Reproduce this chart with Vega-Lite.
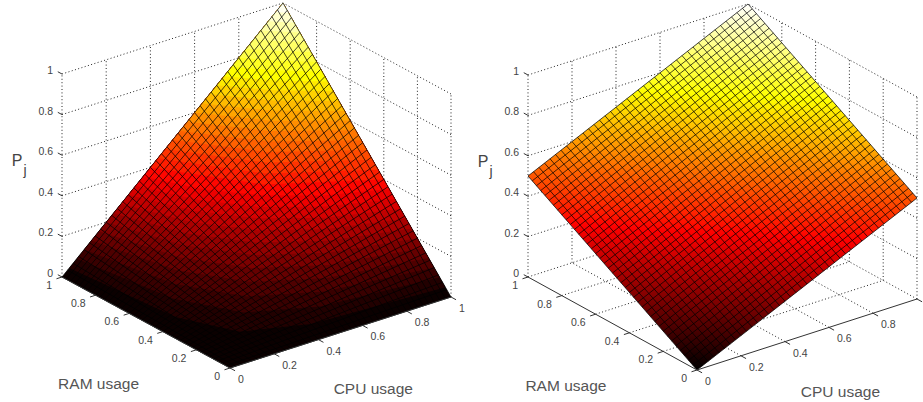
{"$schema":"https://vega.github.io/schema/vega-lite/v6.json","width":923,"height":402,"padding":0,"autosize":{"type":"fit","contains":"padding"},"background":"white","view":{"stroke":null},
"data":{"values":[
{"kind":"grid","panel":"both","x0":0,"y0":1,"z0":0,"x1":0,"y1":1,"z1":1},{"kind":"grid","panel":"both","x0":0.2,"y0":1,"z0":0,"x1":0.2,"y1":1,"z1":1},{"kind":"grid","panel":"both","x0":0.4,"y0":1,"z0":0,"x1":0.4,"y1":1,"z1":1},{"kind":"grid","panel":"both","x0":0.6,"y0":1,"z0":0,"x1":0.6,"y1":1,"z1":1},{"kind":"grid","panel":"both","x0":0.8,"y0":1,"z0":0,"x1":0.8,"y1":1,"z1":1},{"kind":"grid","panel":"both","x0":1,"y0":1,"z0":0,"x1":1,"y1":1,"z1":1},
{"kind":"grid","panel":"both","x0":0,"y0":1,"z0":0,"x1":1,"y1":1,"z1":0},{"kind":"grid","panel":"both","x0":0,"y0":1,"z0":0.2,"x1":1,"y1":1,"z1":0.2},{"kind":"grid","panel":"both","x0":0,"y0":1,"z0":0.4,"x1":1,"y1":1,"z1":0.4},{"kind":"grid","panel":"both","x0":0,"y0":1,"z0":0.6,"x1":1,"y1":1,"z1":0.6},{"kind":"grid","panel":"both","x0":0,"y0":1,"z0":0.8,"x1":1,"y1":1,"z1":0.8},{"kind":"grid","panel":"both","x0":0,"y0":1,"z0":1,"x1":1,"y1":1,"z1":1},
{"kind":"grid","panel":"both","x0":1,"y0":0,"z0":0,"x1":1,"y1":0,"z1":1},{"kind":"grid","panel":"both","x0":1,"y0":0.2,"z0":0,"x1":1,"y1":0.2,"z1":1},{"kind":"grid","panel":"both","x0":1,"y0":0.4,"z0":0,"x1":1,"y1":0.4,"z1":1},{"kind":"grid","panel":"both","x0":1,"y0":0.6,"z0":0,"x1":1,"y1":0.6,"z1":1},{"kind":"grid","panel":"both","x0":1,"y0":0.8,"z0":0,"x1":1,"y1":0.8,"z1":1},
{"kind":"grid","panel":"both","x0":1,"y0":0,"z0":0,"x1":1,"y1":1,"z1":0},{"kind":"grid","panel":"both","x0":1,"y0":0,"z0":0.2,"x1":1,"y1":1,"z1":0.2},{"kind":"grid","panel":"both","x0":1,"y0":0,"z0":0.4,"x1":1,"y1":1,"z1":0.4},{"kind":"grid","panel":"both","x0":1,"y0":0,"z0":0.6,"x1":1,"y1":1,"z1":0.6},{"kind":"grid","panel":"both","x0":1,"y0":0,"z0":0.8,"x1":1,"y1":1,"z1":0.8},{"kind":"grid","panel":"both","x0":1,"y0":0,"z0":1,"x1":1,"y1":1,"z1":1},
{"kind":"grid","panel":"both","x0":0.2,"y0":0,"z0":0,"x1":0.2,"y1":1,"z1":0},{"kind":"grid","panel":"both","x0":0.4,"y0":0,"z0":0,"x1":0.4,"y1":1,"z1":0},{"kind":"grid","panel":"both","x0":0.6,"y0":0,"z0":0,"x1":0.6,"y1":1,"z1":0},{"kind":"grid","panel":"both","x0":0.8,"y0":0,"z0":0,"x1":0.8,"y1":1,"z1":0},
{"kind":"grid","panel":"both","x0":0,"y0":0.2,"z0":0,"x1":1,"y1":0.2,"z1":0},{"kind":"grid","panel":"both","x0":0,"y0":0.4,"z0":0,"x1":1,"y1":0.4,"z1":0},{"kind":"grid","panel":"both","x0":0,"y0":0.6,"z0":0,"x1":1,"y1":0.6,"z1":0},{"kind":"grid","panel":"both","x0":0,"y0":0.8,"z0":0,"x1":1,"y1":0.8,"z1":0},
{"kind":"axis","panel":"both","x0":0,"y0":0,"z0":0,"x1":1,"y1":0,"z1":0},{"kind":"axis","panel":"both","x0":0,"y0":0,"z0":0,"x1":0,"y1":1,"z1":0},
{"kind":"axis","panel":"both","x0":0,"y0":0,"z0":0,"x1":-0.025,"y1":0,"z1":0},{"kind":"axis","panel":"both","x0":0,"y0":0.2,"z0":0,"x1":-0.025,"y1":0.2,"z1":0},{"kind":"axis","panel":"both","x0":0,"y0":0.4,"z0":0,"x1":-0.025,"y1":0.4,"z1":0},{"kind":"axis","panel":"both","x0":0,"y0":0.6,"z0":0,"x1":-0.025,"y1":0.6,"z1":0},{"kind":"axis","panel":"both","x0":0,"y0":0.8,"z0":0,"x1":-0.025,"y1":0.8,"z1":0},{"kind":"axis","panel":"both","x0":0,"y0":1,"z0":0,"x1":-0.025,"y1":1,"z1":0},
{"kind":"axis","panel":"both","x0":0,"y0":0,"z0":0,"x1":0,"y1":-0.03,"z1":0},{"kind":"axis","panel":"both","x0":0.2,"y0":0,"z0":0,"x1":0.2,"y1":-0.03,"z1":0},{"kind":"axis","panel":"both","x0":0.4,"y0":0,"z0":0,"x1":0.4,"y1":-0.03,"z1":0},{"kind":"axis","panel":"both","x0":0.6,"y0":0,"z0":0,"x1":0.6,"y1":-0.03,"z1":0},{"kind":"axis","panel":"both","x0":0.8,"y0":0,"z0":0,"x1":0.8,"y1":-0.03,"z1":0},{"kind":"axis","panel":"both","x0":1,"y0":0,"z0":0,"x1":1,"y1":-0.03,"z1":0},
{"kind":"axis","panel":"both","x0":0,"y0":1,"z0":0,"x1":0,"y1":1.025,"z1":0},{"kind":"axis","panel":"both","x0":0,"y0":1,"z0":0.2,"x1":0,"y1":1.025,"z1":0.2},{"kind":"axis","panel":"both","x0":0,"y0":1,"z0":0.4,"x1":0,"y1":1.025,"z1":0.4},{"kind":"axis","panel":"both","x0":0,"y0":1,"z0":0.6,"x1":0,"y1":1.025,"z1":0.6},{"kind":"axis","panel":"both","x0":0,"y0":1,"z0":0.8,"x1":0,"y1":1.025,"z1":0.8},{"kind":"axis","panel":"both","x0":0,"y0":1,"z0":1,"x1":0,"y1":1.025,"z1":1},
{"kind":"ramT","panel":"both","x0":0,"y0":0,"z0":0,"label":"0"},{"kind":"ramT","panel":"both","x0":0,"y0":0.2,"z0":0,"label":"0.2"},{"kind":"ramT","panel":"both","x0":0,"y0":0.4,"z0":0,"label":"0.4"},{"kind":"ramT","panel":"both","x0":0,"y0":0.6,"z0":0,"label":"0.6"},{"kind":"ramT","panel":"both","x0":0,"y0":0.8,"z0":0,"label":"0.8"},{"kind":"ramT","panel":"both","x0":0,"y0":1,"z0":0,"label":"1"},
{"kind":"cpuT","panel":"both","x0":0,"y0":0,"z0":0,"label":"0"},{"kind":"cpuT","panel":"both","x0":0.2,"y0":0,"z0":0,"label":"0.2"},{"kind":"cpuT","panel":"both","x0":0.4,"y0":0,"z0":0,"label":"0.4"},{"kind":"cpuT","panel":"both","x0":0.6,"y0":0,"z0":0,"label":"0.6"},{"kind":"cpuT","panel":"both","x0":0.8,"y0":0,"z0":0,"label":"0.8"},{"kind":"cpuT","panel":"L","x0":1,"y0":0,"z0":0,"label":"1"},
{"kind":"pT","panel":"both","x0":0,"y0":1,"z0":0,"label":"0"},{"kind":"pT","panel":"both","x0":0,"y0":1,"z0":0.2,"label":"0.2"},{"kind":"pT","panel":"both","x0":0,"y0":1,"z0":0.4,"label":"0.4"},{"kind":"pT","panel":"both","x0":0,"y0":1,"z0":0.6,"label":"0.6"},{"kind":"pT","panel":"both","x0":0,"y0":1,"z0":0.8,"label":"0.8"},{"kind":"pT","panel":"both","x0":0,"y0":1,"z0":1,"label":"1"},
{"kind":"title","panel":"both","x0":-0.457,"y0":0.181,"z0":0,"label":"RAM usage"},{"kind":"title","panel":"both","x0":0.297,"y0":-0.462,"z0":0,"label":"CPU usage"},
{"kind":"sym","panel":"both","x0":0,"y0":1,"z0":0.57,"label":"P"},{"kind":"sub","panel":"both","x0":0,"y0":1,"z0":0.522,"label":"j"},
{"kind":"plane","panel":"R","x0":0,"y0":0,"z0":0},{"kind":"plane","panel":"R","x0":1,"y0":0,"z0":0.5},{"kind":"plane","panel":"R","x0":1,"y0":1,"z0":1},{"kind":"plane","panel":"R","x0":0,"y0":1,"z0":0.5},
{"kind":"band","panel":"L","level":0,"x0":0,"y0":0,"z0":0},{"kind":"band","panel":"L","level":0,"x0":1,"y0":0,"z0":0},{"kind":"band","panel":"L","level":0,"x0":1,"y0":1,"z0":1},{"kind":"band","panel":"L","level":0,"x0":0,"y0":1,"z0":0},
{"kind":"band","panel":"L","level":0.033,"x0":0.033,"y0":1,"z0":0.033},{"kind":"band","panel":"L","level":0.033,"x0":0.078,"y0":0.427,"z0":0.033},{"kind":"band","panel":"L","level":0.033,"x0":0.183,"y0":0.183,"z0":0.033},{"kind":"band","panel":"L","level":0.033,"x0":0.427,"y0":0.078,"z0":0.033},{"kind":"band","panel":"L","level":0.033,"x0":1,"y0":0.033,"z0":0.033},{"kind":"band","panel":"L","level":0.033,"x0":1,"y0":1,"z0":1},
{"kind":"band","panel":"L","level":0.067,"x0":0.067,"y0":1,"z0":0.067},{"kind":"band","panel":"L","level":0.067,"x0":0.131,"y0":0.508,"z0":0.067},{"kind":"band","panel":"L","level":0.067,"x0":0.258,"y0":0.258,"z0":0.067},{"kind":"band","panel":"L","level":0.067,"x0":0.508,"y0":0.131,"z0":0.067},{"kind":"band","panel":"L","level":0.067,"x0":1,"y0":0.067,"z0":0.067},{"kind":"band","panel":"L","level":0.067,"x0":1,"y0":1,"z0":1},
{"kind":"band","panel":"L","level":0.1,"x0":0.1,"y0":1,"z0":0.1},{"kind":"band","panel":"L","level":0.1,"x0":0.178,"y0":0.562,"z0":0.1},{"kind":"band","panel":"L","level":0.1,"x0":0.316,"y0":0.316,"z0":0.1},{"kind":"band","panel":"L","level":0.1,"x0":0.562,"y0":0.178,"z0":0.1},{"kind":"band","panel":"L","level":0.1,"x0":1,"y0":0.1,"z0":0.1},{"kind":"band","panel":"L","level":0.1,"x0":1,"y0":1,"z0":1},
{"kind":"band","panel":"L","level":0.133,"x0":0.133,"y0":1,"z0":0.133},{"kind":"band","panel":"L","level":0.133,"x0":0.221,"y0":0.604,"z0":0.133},{"kind":"band","panel":"L","level":0.133,"x0":0.365,"y0":0.365,"z0":0.133},{"kind":"band","panel":"L","level":0.133,"x0":0.604,"y0":0.221,"z0":0.133},{"kind":"band","panel":"L","level":0.133,"x0":1,"y0":0.133,"z0":0.133},{"kind":"band","panel":"L","level":0.133,"x0":1,"y0":1,"z0":1},
{"kind":"band","panel":"L","level":0.167,"x0":0.167,"y0":1,"z0":0.167},{"kind":"band","panel":"L","level":0.167,"x0":0.261,"y0":0.639,"z0":0.167},{"kind":"band","panel":"L","level":0.167,"x0":0.408,"y0":0.408,"z0":0.167},{"kind":"band","panel":"L","level":0.167,"x0":0.639,"y0":0.261,"z0":0.167},{"kind":"band","panel":"L","level":0.167,"x0":1,"y0":0.167,"z0":0.167},{"kind":"band","panel":"L","level":0.167,"x0":1,"y0":1,"z0":1},
{"kind":"band","panel":"L","level":0.2,"x0":0.2,"y0":1,"z0":0.2},{"kind":"band","panel":"L","level":0.2,"x0":0.299,"y0":0.669,"z0":0.2},{"kind":"band","panel":"L","level":0.2,"x0":0.447,"y0":0.447,"z0":0.2},{"kind":"band","panel":"L","level":0.2,"x0":0.669,"y0":0.299,"z0":0.2},{"kind":"band","panel":"L","level":0.2,"x0":1,"y0":0.2,"z0":0.2},{"kind":"band","panel":"L","level":0.2,"x0":1,"y0":1,"z0":1},
{"kind":"band","panel":"L","level":0.233,"x0":0.233,"y0":1,"z0":0.233},{"kind":"band","panel":"L","level":0.233,"x0":0.336,"y0":0.695,"z0":0.233},{"kind":"band","panel":"L","level":0.233,"x0":0.483,"y0":0.483,"z0":0.233},{"kind":"band","panel":"L","level":0.233,"x0":0.695,"y0":0.336,"z0":0.233},{"kind":"band","panel":"L","level":0.233,"x0":1,"y0":0.233,"z0":0.233},{"kind":"band","panel":"L","level":0.233,"x0":1,"y0":1,"z0":1},
{"kind":"band","panel":"L","level":0.267,"x0":0.267,"y0":1,"z0":0.267},{"kind":"band","panel":"L","level":0.267,"x0":0.371,"y0":0.719,"z0":0.267},{"kind":"band","panel":"L","level":0.267,"x0":0.516,"y0":0.516,"z0":0.267},{"kind":"band","panel":"L","level":0.267,"x0":0.719,"y0":0.371,"z0":0.267},{"kind":"band","panel":"L","level":0.267,"x0":1,"y0":0.267,"z0":0.267},{"kind":"band","panel":"L","level":0.267,"x0":1,"y0":1,"z0":1},
{"kind":"band","panel":"L","level":0.3,"x0":0.3,"y0":1,"z0":0.3},{"kind":"band","panel":"L","level":0.3,"x0":0.405,"y0":0.74,"z0":0.3},{"kind":"band","panel":"L","level":0.3,"x0":0.548,"y0":0.548,"z0":0.3},{"kind":"band","panel":"L","level":0.3,"x0":0.74,"y0":0.405,"z0":0.3},{"kind":"band","panel":"L","level":0.3,"x0":1,"y0":0.3,"z0":0.3},{"kind":"band","panel":"L","level":0.3,"x0":1,"y0":1,"z0":1},
{"kind":"band","panel":"L","level":0.333,"x0":0.333,"y0":1,"z0":0.333},{"kind":"band","panel":"L","level":0.333,"x0":0.439,"y0":0.76,"z0":0.333},{"kind":"band","panel":"L","level":0.333,"x0":0.577,"y0":0.577,"z0":0.333},{"kind":"band","panel":"L","level":0.333,"x0":0.76,"y0":0.439,"z0":0.333},{"kind":"band","panel":"L","level":0.333,"x0":1,"y0":0.333,"z0":0.333},{"kind":"band","panel":"L","level":0.333,"x0":1,"y0":1,"z0":1},
{"kind":"band","panel":"L","level":0.367,"x0":0.367,"y0":1,"z0":0.367},{"kind":"band","panel":"L","level":0.367,"x0":0.471,"y0":0.778,"z0":0.367},{"kind":"band","panel":"L","level":0.367,"x0":0.606,"y0":0.606,"z0":0.367},{"kind":"band","panel":"L","level":0.367,"x0":0.778,"y0":0.471,"z0":0.367},{"kind":"band","panel":"L","level":0.367,"x0":1,"y0":0.367,"z0":0.367},{"kind":"band","panel":"L","level":0.367,"x0":1,"y0":1,"z0":1},
{"kind":"band","panel":"L","level":0.4,"x0":0.4,"y0":1,"z0":0.4},{"kind":"band","panel":"L","level":0.4,"x0":0.632,"y0":0.632,"z0":0.4},{"kind":"band","panel":"L","level":0.4,"x0":1,"y0":0.4,"z0":0.4},{"kind":"band","panel":"L","level":0.4,"x0":1,"y0":1,"z0":1},
{"kind":"band","panel":"L","level":0.433,"x0":0.433,"y0":1,"z0":0.433},{"kind":"band","panel":"L","level":0.433,"x0":0.658,"y0":0.658,"z0":0.433},{"kind":"band","panel":"L","level":0.433,"x0":1,"y0":0.433,"z0":0.433},{"kind":"band","panel":"L","level":0.433,"x0":1,"y0":1,"z0":1},
{"kind":"band","panel":"L","level":0.467,"x0":0.467,"y0":1,"z0":0.467},{"kind":"band","panel":"L","level":0.467,"x0":0.683,"y0":0.683,"z0":0.467},{"kind":"band","panel":"L","level":0.467,"x0":1,"y0":0.467,"z0":0.467},{"kind":"band","panel":"L","level":0.467,"x0":1,"y0":1,"z0":1},
{"kind":"band","panel":"L","level":0.5,"x0":0.5,"y0":1,"z0":0.5},{"kind":"band","panel":"L","level":0.5,"x0":0.707,"y0":0.707,"z0":0.5},{"kind":"band","panel":"L","level":0.5,"x0":1,"y0":0.5,"z0":0.5},{"kind":"band","panel":"L","level":0.5,"x0":1,"y0":1,"z0":1},
{"kind":"band","panel":"L","level":0.533,"x0":0.533,"y0":1,"z0":0.533},{"kind":"band","panel":"L","level":0.533,"x0":0.73,"y0":0.73,"z0":0.533},{"kind":"band","panel":"L","level":0.533,"x0":1,"y0":0.533,"z0":0.533},{"kind":"band","panel":"L","level":0.533,"x0":1,"y0":1,"z0":1},
{"kind":"band","panel":"L","level":0.567,"x0":0.567,"y0":1,"z0":0.567},{"kind":"band","panel":"L","level":0.567,"x0":0.753,"y0":0.753,"z0":0.567},{"kind":"band","panel":"L","level":0.567,"x0":1,"y0":0.567,"z0":0.567},{"kind":"band","panel":"L","level":0.567,"x0":1,"y0":1,"z0":1},
{"kind":"band","panel":"L","level":0.6,"x0":0.6,"y0":1,"z0":0.6},{"kind":"band","panel":"L","level":0.6,"x0":0.775,"y0":0.775,"z0":0.6},{"kind":"band","panel":"L","level":0.6,"x0":1,"y0":0.6,"z0":0.6},{"kind":"band","panel":"L","level":0.6,"x0":1,"y0":1,"z0":1},
{"kind":"band","panel":"L","level":0.633,"x0":0.633,"y0":1,"z0":0.633},{"kind":"band","panel":"L","level":0.633,"x0":0.796,"y0":0.796,"z0":0.633},{"kind":"band","panel":"L","level":0.633,"x0":1,"y0":0.633,"z0":0.633},{"kind":"band","panel":"L","level":0.633,"x0":1,"y0":1,"z0":1},
{"kind":"band","panel":"L","level":0.667,"x0":0.667,"y0":1,"z0":0.667},{"kind":"band","panel":"L","level":0.667,"x0":0.816,"y0":0.816,"z0":0.667},{"kind":"band","panel":"L","level":0.667,"x0":1,"y0":0.667,"z0":0.667},{"kind":"band","panel":"L","level":0.667,"x0":1,"y0":1,"z0":1},
{"kind":"band","panel":"L","level":0.7,"x0":0.7,"y0":1,"z0":0.7},{"kind":"band","panel":"L","level":0.7,"x0":0.837,"y0":0.837,"z0":0.7},{"kind":"band","panel":"L","level":0.7,"x0":1,"y0":0.7,"z0":0.7},{"kind":"band","panel":"L","level":0.7,"x0":1,"y0":1,"z0":1},
{"kind":"band","panel":"L","level":0.733,"x0":0.733,"y0":1,"z0":0.733},{"kind":"band","panel":"L","level":0.733,"x0":0.856,"y0":0.856,"z0":0.733},{"kind":"band","panel":"L","level":0.733,"x0":1,"y0":0.733,"z0":0.733},{"kind":"band","panel":"L","level":0.733,"x0":1,"y0":1,"z0":1},
{"kind":"band","panel":"L","level":0.767,"x0":0.767,"y0":1,"z0":0.767},{"kind":"band","panel":"L","level":0.767,"x0":0.876,"y0":0.876,"z0":0.767},{"kind":"band","panel":"L","level":0.767,"x0":1,"y0":0.767,"z0":0.767},{"kind":"band","panel":"L","level":0.767,"x0":1,"y0":1,"z0":1},
{"kind":"band","panel":"L","level":0.8,"x0":0.8,"y0":1,"z0":0.8},{"kind":"band","panel":"L","level":0.8,"x0":0.894,"y0":0.894,"z0":0.8},{"kind":"band","panel":"L","level":0.8,"x0":1,"y0":0.8,"z0":0.8},{"kind":"band","panel":"L","level":0.8,"x0":1,"y0":1,"z0":1},
{"kind":"band","panel":"L","level":0.833,"x0":0.833,"y0":1,"z0":0.833},{"kind":"band","panel":"L","level":0.833,"x0":0.913,"y0":0.913,"z0":0.833},{"kind":"band","panel":"L","level":0.833,"x0":1,"y0":0.833,"z0":0.833},{"kind":"band","panel":"L","level":0.833,"x0":1,"y0":1,"z0":1},
{"kind":"band","panel":"L","level":0.867,"x0":0.867,"y0":1,"z0":0.867},{"kind":"band","panel":"L","level":0.867,"x0":0.931,"y0":0.931,"z0":0.867},{"kind":"band","panel":"L","level":0.867,"x0":1,"y0":0.867,"z0":0.867},{"kind":"band","panel":"L","level":0.867,"x0":1,"y0":1,"z0":1},
{"kind":"band","panel":"L","level":0.9,"x0":0.9,"y0":1,"z0":0.9},{"kind":"band","panel":"L","level":0.9,"x0":0.949,"y0":0.949,"z0":0.9},{"kind":"band","panel":"L","level":0.9,"x0":1,"y0":0.9,"z0":0.9},{"kind":"band","panel":"L","level":0.9,"x0":1,"y0":1,"z0":1},
{"kind":"band","panel":"L","level":0.933,"x0":0.933,"y0":1,"z0":0.933},{"kind":"band","panel":"L","level":0.933,"x0":0.966,"y0":0.966,"z0":0.933},{"kind":"band","panel":"L","level":0.933,"x0":1,"y0":0.933,"z0":0.933},{"kind":"band","panel":"L","level":0.933,"x0":1,"y0":1,"z0":1},
{"kind":"band","panel":"L","level":0.967,"x0":0.967,"y0":1,"z0":0.967},{"kind":"band","panel":"L","level":0.967,"x0":0.983,"y0":0.983,"z0":0.967},{"kind":"band","panel":"L","level":0.967,"x0":1,"y0":0.967,"z0":0.967},{"kind":"band","panel":"L","level":0.967,"x0":1,"y0":1,"z0":1},
{"kind":"mesh","panel":"L","x0":0,"y0":0,"z0":0,"x1":0,"y1":1,"z1":0},{"kind":"mesh","panel":"L","x0":0.025,"y0":0,"z0":0,"x1":0.025,"y1":1,"z1":0.025},{"kind":"mesh","panel":"L","x0":0.05,"y0":0,"z0":0,"x1":0.05,"y1":1,"z1":0.05},{"kind":"mesh","panel":"L","x0":0.075,"y0":0,"z0":0,"x1":0.075,"y1":1,"z1":0.075},{"kind":"mesh","panel":"L","x0":0.1,"y0":0,"z0":0,"x1":0.1,"y1":1,"z1":0.1},{"kind":"mesh","panel":"L","x0":0.125,"y0":0,"z0":0,"x1":0.125,"y1":1,"z1":0.125},{"kind":"mesh","panel":"L","x0":0.15,"y0":0,"z0":0,"x1":0.15,"y1":1,"z1":0.15},{"kind":"mesh","panel":"L","x0":0.175,"y0":0,"z0":0,"x1":0.175,"y1":1,"z1":0.175},{"kind":"mesh","panel":"L","x0":0.2,"y0":0,"z0":0,"x1":0.2,"y1":1,"z1":0.2},{"kind":"mesh","panel":"L","x0":0.225,"y0":0,"z0":0,"x1":0.225,"y1":1,"z1":0.225},
{"kind":"mesh","panel":"L","x0":0.25,"y0":0,"z0":0,"x1":0.25,"y1":1,"z1":0.25},{"kind":"mesh","panel":"L","x0":0.275,"y0":0,"z0":0,"x1":0.275,"y1":1,"z1":0.275},{"kind":"mesh","panel":"L","x0":0.3,"y0":0,"z0":0,"x1":0.3,"y1":1,"z1":0.3},{"kind":"mesh","panel":"L","x0":0.325,"y0":0,"z0":0,"x1":0.325,"y1":1,"z1":0.325},{"kind":"mesh","panel":"L","x0":0.35,"y0":0,"z0":0,"x1":0.35,"y1":1,"z1":0.35},{"kind":"mesh","panel":"L","x0":0.375,"y0":0,"z0":0,"x1":0.375,"y1":1,"z1":0.375},{"kind":"mesh","panel":"L","x0":0.4,"y0":0,"z0":0,"x1":0.4,"y1":1,"z1":0.4},{"kind":"mesh","panel":"L","x0":0.425,"y0":0,"z0":0,"x1":0.425,"y1":1,"z1":0.425},{"kind":"mesh","panel":"L","x0":0.45,"y0":0,"z0":0,"x1":0.45,"y1":1,"z1":0.45},{"kind":"mesh","panel":"L","x0":0.475,"y0":0,"z0":0,"x1":0.475,"y1":1,"z1":0.475},
{"kind":"mesh","panel":"L","x0":0.5,"y0":0,"z0":0,"x1":0.5,"y1":1,"z1":0.5},{"kind":"mesh","panel":"L","x0":0.525,"y0":0,"z0":0,"x1":0.525,"y1":1,"z1":0.525},{"kind":"mesh","panel":"L","x0":0.55,"y0":0,"z0":0,"x1":0.55,"y1":1,"z1":0.55},{"kind":"mesh","panel":"L","x0":0.575,"y0":0,"z0":0,"x1":0.575,"y1":1,"z1":0.575},{"kind":"mesh","panel":"L","x0":0.6,"y0":0,"z0":0,"x1":0.6,"y1":1,"z1":0.6},{"kind":"mesh","panel":"L","x0":0.625,"y0":0,"z0":0,"x1":0.625,"y1":1,"z1":0.625},{"kind":"mesh","panel":"L","x0":0.65,"y0":0,"z0":0,"x1":0.65,"y1":1,"z1":0.65},{"kind":"mesh","panel":"L","x0":0.675,"y0":0,"z0":0,"x1":0.675,"y1":1,"z1":0.675},{"kind":"mesh","panel":"L","x0":0.7,"y0":0,"z0":0,"x1":0.7,"y1":1,"z1":0.7},{"kind":"mesh","panel":"L","x0":0.725,"y0":0,"z0":0,"x1":0.725,"y1":1,"z1":0.725},
{"kind":"mesh","panel":"L","x0":0.75,"y0":0,"z0":0,"x1":0.75,"y1":1,"z1":0.75},{"kind":"mesh","panel":"L","x0":0.775,"y0":0,"z0":0,"x1":0.775,"y1":1,"z1":0.775},{"kind":"mesh","panel":"L","x0":0.8,"y0":0,"z0":0,"x1":0.8,"y1":1,"z1":0.8},{"kind":"mesh","panel":"L","x0":0.825,"y0":0,"z0":0,"x1":0.825,"y1":1,"z1":0.825},{"kind":"mesh","panel":"L","x0":0.85,"y0":0,"z0":0,"x1":0.85,"y1":1,"z1":0.85},{"kind":"mesh","panel":"L","x0":0.875,"y0":0,"z0":0,"x1":0.875,"y1":1,"z1":0.875},{"kind":"mesh","panel":"L","x0":0.9,"y0":0,"z0":0,"x1":0.9,"y1":1,"z1":0.9},{"kind":"mesh","panel":"L","x0":0.925,"y0":0,"z0":0,"x1":0.925,"y1":1,"z1":0.925},{"kind":"mesh","panel":"L","x0":0.95,"y0":0,"z0":0,"x1":0.95,"y1":1,"z1":0.95},{"kind":"mesh","panel":"L","x0":0.975,"y0":0,"z0":0,"x1":0.975,"y1":1,"z1":0.975},{"kind":"mesh","panel":"L","x0":1,"y0":0,"z0":0,"x1":1,"y1":1,"z1":1},
{"kind":"mesh","panel":"L","x0":0,"y0":0,"z0":0,"x1":1,"y1":0,"z1":0},{"kind":"mesh","panel":"L","x0":0,"y0":0.025,"z0":0,"x1":1,"y1":0.025,"z1":0.025},{"kind":"mesh","panel":"L","x0":0,"y0":0.05,"z0":0,"x1":1,"y1":0.05,"z1":0.05},{"kind":"mesh","panel":"L","x0":0,"y0":0.075,"z0":0,"x1":1,"y1":0.075,"z1":0.075},{"kind":"mesh","panel":"L","x0":0,"y0":0.1,"z0":0,"x1":1,"y1":0.1,"z1":0.1},{"kind":"mesh","panel":"L","x0":0,"y0":0.125,"z0":0,"x1":1,"y1":0.125,"z1":0.125},{"kind":"mesh","panel":"L","x0":0,"y0":0.15,"z0":0,"x1":1,"y1":0.15,"z1":0.15},{"kind":"mesh","panel":"L","x0":0,"y0":0.175,"z0":0,"x1":1,"y1":0.175,"z1":0.175},{"kind":"mesh","panel":"L","x0":0,"y0":0.2,"z0":0,"x1":1,"y1":0.2,"z1":0.2},{"kind":"mesh","panel":"L","x0":0,"y0":0.225,"z0":0,"x1":1,"y1":0.225,"z1":0.225},
{"kind":"mesh","panel":"L","x0":0,"y0":0.25,"z0":0,"x1":1,"y1":0.25,"z1":0.25},{"kind":"mesh","panel":"L","x0":0,"y0":0.275,"z0":0,"x1":1,"y1":0.275,"z1":0.275},{"kind":"mesh","panel":"L","x0":0,"y0":0.3,"z0":0,"x1":1,"y1":0.3,"z1":0.3},{"kind":"mesh","panel":"L","x0":0,"y0":0.325,"z0":0,"x1":1,"y1":0.325,"z1":0.325},{"kind":"mesh","panel":"L","x0":0,"y0":0.35,"z0":0,"x1":1,"y1":0.35,"z1":0.35},{"kind":"mesh","panel":"L","x0":0,"y0":0.375,"z0":0,"x1":1,"y1":0.375,"z1":0.375},{"kind":"mesh","panel":"L","x0":0,"y0":0.4,"z0":0,"x1":1,"y1":0.4,"z1":0.4},{"kind":"mesh","panel":"L","x0":0,"y0":0.425,"z0":0,"x1":1,"y1":0.425,"z1":0.425},{"kind":"mesh","panel":"L","x0":0,"y0":0.45,"z0":0,"x1":1,"y1":0.45,"z1":0.45},{"kind":"mesh","panel":"L","x0":0,"y0":0.475,"z0":0,"x1":1,"y1":0.475,"z1":0.475},
{"kind":"mesh","panel":"L","x0":0,"y0":0.5,"z0":0,"x1":1,"y1":0.5,"z1":0.5},{"kind":"mesh","panel":"L","x0":0,"y0":0.525,"z0":0,"x1":1,"y1":0.525,"z1":0.525},{"kind":"mesh","panel":"L","x0":0,"y0":0.55,"z0":0,"x1":1,"y1":0.55,"z1":0.55},{"kind":"mesh","panel":"L","x0":0,"y0":0.575,"z0":0,"x1":1,"y1":0.575,"z1":0.575},{"kind":"mesh","panel":"L","x0":0,"y0":0.6,"z0":0,"x1":1,"y1":0.6,"z1":0.6},{"kind":"mesh","panel":"L","x0":0,"y0":0.625,"z0":0,"x1":1,"y1":0.625,"z1":0.625},{"kind":"mesh","panel":"L","x0":0,"y0":0.65,"z0":0,"x1":1,"y1":0.65,"z1":0.65},{"kind":"mesh","panel":"L","x0":0,"y0":0.675,"z0":0,"x1":1,"y1":0.675,"z1":0.675},{"kind":"mesh","panel":"L","x0":0,"y0":0.7,"z0":0,"x1":1,"y1":0.7,"z1":0.7},{"kind":"mesh","panel":"L","x0":0,"y0":0.725,"z0":0,"x1":1,"y1":0.725,"z1":0.725},
{"kind":"mesh","panel":"L","x0":0,"y0":0.75,"z0":0,"x1":1,"y1":0.75,"z1":0.75},{"kind":"mesh","panel":"L","x0":0,"y0":0.775,"z0":0,"x1":1,"y1":0.775,"z1":0.775},{"kind":"mesh","panel":"L","x0":0,"y0":0.8,"z0":0,"x1":1,"y1":0.8,"z1":0.8},{"kind":"mesh","panel":"L","x0":0,"y0":0.825,"z0":0,"x1":1,"y1":0.825,"z1":0.825},{"kind":"mesh","panel":"L","x0":0,"y0":0.85,"z0":0,"x1":1,"y1":0.85,"z1":0.85},{"kind":"mesh","panel":"L","x0":0,"y0":0.875,"z0":0,"x1":1,"y1":0.875,"z1":0.875},{"kind":"mesh","panel":"L","x0":0,"y0":0.9,"z0":0,"x1":1,"y1":0.9,"z1":0.9},{"kind":"mesh","panel":"L","x0":0,"y0":0.925,"z0":0,"x1":1,"y1":0.925,"z1":0.925},{"kind":"mesh","panel":"L","x0":0,"y0":0.95,"z0":0,"x1":1,"y1":0.95,"z1":0.95},{"kind":"mesh","panel":"L","x0":0,"y0":0.975,"z0":0,"x1":1,"y1":0.975,"z1":0.975},{"kind":"mesh","panel":"L","x0":0,"y0":1,"z0":0,"x1":1,"y1":1,"z1":1},
{"kind":"mesh","panel":"R","x0":0,"y0":0,"z0":0,"x1":0,"y1":1,"z1":0.5},{"kind":"mesh","panel":"R","x0":0.025,"y0":0,"z0":0.0125,"x1":0.025,"y1":1,"z1":0.5125},{"kind":"mesh","panel":"R","x0":0.05,"y0":0,"z0":0.025,"x1":0.05,"y1":1,"z1":0.525},{"kind":"mesh","panel":"R","x0":0.075,"y0":0,"z0":0.0375,"x1":0.075,"y1":1,"z1":0.5375},{"kind":"mesh","panel":"R","x0":0.1,"y0":0,"z0":0.05,"x1":0.1,"y1":1,"z1":0.55},{"kind":"mesh","panel":"R","x0":0.125,"y0":0,"z0":0.0625,"x1":0.125,"y1":1,"z1":0.5625},{"kind":"mesh","panel":"R","x0":0.15,"y0":0,"z0":0.075,"x1":0.15,"y1":1,"z1":0.575},{"kind":"mesh","panel":"R","x0":0.175,"y0":0,"z0":0.0875,"x1":0.175,"y1":1,"z1":0.5875},{"kind":"mesh","panel":"R","x0":0.2,"y0":0,"z0":0.1,"x1":0.2,"y1":1,"z1":0.6},{"kind":"mesh","panel":"R","x0":0.225,"y0":0,"z0":0.1125,"x1":0.225,"y1":1,"z1":0.6125},
{"kind":"mesh","panel":"R","x0":0.25,"y0":0,"z0":0.125,"x1":0.25,"y1":1,"z1":0.625},{"kind":"mesh","panel":"R","x0":0.275,"y0":0,"z0":0.1375,"x1":0.275,"y1":1,"z1":0.6375},{"kind":"mesh","panel":"R","x0":0.3,"y0":0,"z0":0.15,"x1":0.3,"y1":1,"z1":0.65},{"kind":"mesh","panel":"R","x0":0.325,"y0":0,"z0":0.1625,"x1":0.325,"y1":1,"z1":0.6625},{"kind":"mesh","panel":"R","x0":0.35,"y0":0,"z0":0.175,"x1":0.35,"y1":1,"z1":0.675},{"kind":"mesh","panel":"R","x0":0.375,"y0":0,"z0":0.1875,"x1":0.375,"y1":1,"z1":0.6875},{"kind":"mesh","panel":"R","x0":0.4,"y0":0,"z0":0.2,"x1":0.4,"y1":1,"z1":0.7},{"kind":"mesh","panel":"R","x0":0.425,"y0":0,"z0":0.2125,"x1":0.425,"y1":1,"z1":0.7125},{"kind":"mesh","panel":"R","x0":0.45,"y0":0,"z0":0.225,"x1":0.45,"y1":1,"z1":0.725},{"kind":"mesh","panel":"R","x0":0.475,"y0":0,"z0":0.2375,"x1":0.475,"y1":1,"z1":0.7375},
{"kind":"mesh","panel":"R","x0":0.5,"y0":0,"z0":0.25,"x1":0.5,"y1":1,"z1":0.75},{"kind":"mesh","panel":"R","x0":0.525,"y0":0,"z0":0.2625,"x1":0.525,"y1":1,"z1":0.7625},{"kind":"mesh","panel":"R","x0":0.55,"y0":0,"z0":0.275,"x1":0.55,"y1":1,"z1":0.775},{"kind":"mesh","panel":"R","x0":0.575,"y0":0,"z0":0.2875,"x1":0.575,"y1":1,"z1":0.7875},{"kind":"mesh","panel":"R","x0":0.6,"y0":0,"z0":0.3,"x1":0.6,"y1":1,"z1":0.8},{"kind":"mesh","panel":"R","x0":0.625,"y0":0,"z0":0.3125,"x1":0.625,"y1":1,"z1":0.8125},{"kind":"mesh","panel":"R","x0":0.65,"y0":0,"z0":0.325,"x1":0.65,"y1":1,"z1":0.825},{"kind":"mesh","panel":"R","x0":0.675,"y0":0,"z0":0.3375,"x1":0.675,"y1":1,"z1":0.8375},{"kind":"mesh","panel":"R","x0":0.7,"y0":0,"z0":0.35,"x1":0.7,"y1":1,"z1":0.85},{"kind":"mesh","panel":"R","x0":0.725,"y0":0,"z0":0.3625,"x1":0.725,"y1":1,"z1":0.8625},
{"kind":"mesh","panel":"R","x0":0.75,"y0":0,"z0":0.375,"x1":0.75,"y1":1,"z1":0.875},{"kind":"mesh","panel":"R","x0":0.775,"y0":0,"z0":0.3875,"x1":0.775,"y1":1,"z1":0.8875},{"kind":"mesh","panel":"R","x0":0.8,"y0":0,"z0":0.4,"x1":0.8,"y1":1,"z1":0.9},{"kind":"mesh","panel":"R","x0":0.825,"y0":0,"z0":0.4125,"x1":0.825,"y1":1,"z1":0.9125},{"kind":"mesh","panel":"R","x0":0.85,"y0":0,"z0":0.425,"x1":0.85,"y1":1,"z1":0.925},{"kind":"mesh","panel":"R","x0":0.875,"y0":0,"z0":0.4375,"x1":0.875,"y1":1,"z1":0.9375},{"kind":"mesh","panel":"R","x0":0.9,"y0":0,"z0":0.45,"x1":0.9,"y1":1,"z1":0.95},{"kind":"mesh","panel":"R","x0":0.925,"y0":0,"z0":0.4625,"x1":0.925,"y1":1,"z1":0.9625},{"kind":"mesh","panel":"R","x0":0.95,"y0":0,"z0":0.475,"x1":0.95,"y1":1,"z1":0.975},{"kind":"mesh","panel":"R","x0":0.975,"y0":0,"z0":0.4875,"x1":0.975,"y1":1,"z1":0.9875},{"kind":"mesh","panel":"R","x0":1,"y0":0,"z0":0.5,"x1":1,"y1":1,"z1":1},
{"kind":"mesh","panel":"R","x0":0,"y0":0,"z0":0,"x1":1,"y1":0,"z1":0.5},{"kind":"mesh","panel":"R","x0":0,"y0":0.025,"z0":0.0125,"x1":1,"y1":0.025,"z1":0.5125},{"kind":"mesh","panel":"R","x0":0,"y0":0.05,"z0":0.025,"x1":1,"y1":0.05,"z1":0.525},{"kind":"mesh","panel":"R","x0":0,"y0":0.075,"z0":0.0375,"x1":1,"y1":0.075,"z1":0.5375},{"kind":"mesh","panel":"R","x0":0,"y0":0.1,"z0":0.05,"x1":1,"y1":0.1,"z1":0.55},{"kind":"mesh","panel":"R","x0":0,"y0":0.125,"z0":0.0625,"x1":1,"y1":0.125,"z1":0.5625},{"kind":"mesh","panel":"R","x0":0,"y0":0.15,"z0":0.075,"x1":1,"y1":0.15,"z1":0.575},{"kind":"mesh","panel":"R","x0":0,"y0":0.175,"z0":0.0875,"x1":1,"y1":0.175,"z1":0.5875},{"kind":"mesh","panel":"R","x0":0,"y0":0.2,"z0":0.1,"x1":1,"y1":0.2,"z1":0.6},{"kind":"mesh","panel":"R","x0":0,"y0":0.225,"z0":0.1125,"x1":1,"y1":0.225,"z1":0.6125},
{"kind":"mesh","panel":"R","x0":0,"y0":0.25,"z0":0.125,"x1":1,"y1":0.25,"z1":0.625},{"kind":"mesh","panel":"R","x0":0,"y0":0.275,"z0":0.1375,"x1":1,"y1":0.275,"z1":0.6375},{"kind":"mesh","panel":"R","x0":0,"y0":0.3,"z0":0.15,"x1":1,"y1":0.3,"z1":0.65},{"kind":"mesh","panel":"R","x0":0,"y0":0.325,"z0":0.1625,"x1":1,"y1":0.325,"z1":0.6625},{"kind":"mesh","panel":"R","x0":0,"y0":0.35,"z0":0.175,"x1":1,"y1":0.35,"z1":0.675},{"kind":"mesh","panel":"R","x0":0,"y0":0.375,"z0":0.1875,"x1":1,"y1":0.375,"z1":0.6875},{"kind":"mesh","panel":"R","x0":0,"y0":0.4,"z0":0.2,"x1":1,"y1":0.4,"z1":0.7},{"kind":"mesh","panel":"R","x0":0,"y0":0.425,"z0":0.2125,"x1":1,"y1":0.425,"z1":0.7125},{"kind":"mesh","panel":"R","x0":0,"y0":0.45,"z0":0.225,"x1":1,"y1":0.45,"z1":0.725},{"kind":"mesh","panel":"R","x0":0,"y0":0.475,"z0":0.2375,"x1":1,"y1":0.475,"z1":0.7375},
{"kind":"mesh","panel":"R","x0":0,"y0":0.5,"z0":0.25,"x1":1,"y1":0.5,"z1":0.75},{"kind":"mesh","panel":"R","x0":0,"y0":0.525,"z0":0.2625,"x1":1,"y1":0.525,"z1":0.7625},{"kind":"mesh","panel":"R","x0":0,"y0":0.55,"z0":0.275,"x1":1,"y1":0.55,"z1":0.775},{"kind":"mesh","panel":"R","x0":0,"y0":0.575,"z0":0.2875,"x1":1,"y1":0.575,"z1":0.7875},{"kind":"mesh","panel":"R","x0":0,"y0":0.6,"z0":0.3,"x1":1,"y1":0.6,"z1":0.8},{"kind":"mesh","panel":"R","x0":0,"y0":0.625,"z0":0.3125,"x1":1,"y1":0.625,"z1":0.8125},{"kind":"mesh","panel":"R","x0":0,"y0":0.65,"z0":0.325,"x1":1,"y1":0.65,"z1":0.825},{"kind":"mesh","panel":"R","x0":0,"y0":0.675,"z0":0.3375,"x1":1,"y1":0.675,"z1":0.8375},{"kind":"mesh","panel":"R","x0":0,"y0":0.7,"z0":0.35,"x1":1,"y1":0.7,"z1":0.85},{"kind":"mesh","panel":"R","x0":0,"y0":0.725,"z0":0.3625,"x1":1,"y1":0.725,"z1":0.8625},
{"kind":"mesh","panel":"R","x0":0,"y0":0.75,"z0":0.375,"x1":1,"y1":0.75,"z1":0.875},{"kind":"mesh","panel":"R","x0":0,"y0":0.775,"z0":0.3875,"x1":1,"y1":0.775,"z1":0.8875},{"kind":"mesh","panel":"R","x0":0,"y0":0.8,"z0":0.4,"x1":1,"y1":0.8,"z1":0.9},{"kind":"mesh","panel":"R","x0":0,"y0":0.825,"z0":0.4125,"x1":1,"y1":0.825,"z1":0.9125},{"kind":"mesh","panel":"R","x0":0,"y0":0.85,"z0":0.425,"x1":1,"y1":0.85,"z1":0.925},{"kind":"mesh","panel":"R","x0":0,"y0":0.875,"z0":0.4375,"x1":1,"y1":0.875,"z1":0.9375},{"kind":"mesh","panel":"R","x0":0,"y0":0.9,"z0":0.45,"x1":1,"y1":0.9,"z1":0.95},{"kind":"mesh","panel":"R","x0":0,"y0":0.925,"z0":0.4625,"x1":1,"y1":0.925,"z1":0.9625},{"kind":"mesh","panel":"R","x0":0,"y0":0.95,"z0":0.475,"x1":1,"y1":0.95,"z1":0.975},{"kind":"mesh","panel":"R","x0":0,"y0":0.975,"z0":0.4875,"x1":1,"y1":0.975,"z1":0.9875},{"kind":"mesh","panel":"R","x0":0,"y0":1,"z0":0.5,"x1":1,"y1":1,"z1":1}
]},
"transform":[
{"calculate":"datum.panel=='both'?['L','R']:[datum.panel]","as":"side"},{"flatten":["side"]},
{"calculate":"datum.side=='L'?230+221*datum.x0-168*datum.y0:697+220*datum.x0-169*datum.y0","as":"sx0"},
{"calculate":"datum.side=='L'?368-71*datum.x0-91*datum.y0-203*datum.z0:370-71*datum.x0-93*datum.y0-202*datum.z0","as":"sy0"},
{"calculate":"datum.side=='L'?230+221*datum.x1-168*datum.y1:697+220*datum.x1-169*datum.y1","as":"sx1"},
{"calculate":"datum.side=='L'?368-71*datum.x1-91*datum.y1-203*datum.z1:370-71*datum.x1-93*datum.y1-202*datum.z1","as":"sy1"}
],
"encoding":{"x":{"field":"sx0","type":"quantitative","axis":null,"scale":{"domain":[0,923],"nice":false,"zero":false}},"y":{"field":"sy0","type":"quantitative","axis":null,"scale":{"domain":[402,0],"nice":false,"zero":false}}},
"layer":[
{"transform":[{"filter":"datum.kind=='grid'"}],"mark":{"type":"rule","stroke":"#222","strokeWidth":1,"strokeDash":[1,2.4]},"encoding":{"x2":{"field":"sx1"},"y2":{"field":"sy1"}}},
{"transform":[{"filter":"datum.kind=='band'"},{"window":[{"op":"row_number","as":"vertex"}]}],"mark":{"type":"line","filled":true,"strokeWidth":0},"encoding":{"detail":{"field":"level","type":"quantitative"},"order":{"field":"vertex","type":"quantitative"},"color":{"field":"level","type":"quantitative","legend":null,"scale":{"domain":[-0.0167,0.358,0.733,0.983],"range":["#000000","#ff0000","#ffff00","#ffffff"],"interpolate":"rgb"}}}},
{"transform":[{"filter":"datum.kind=='plane'"},{"window":[{"op":"row_number","as":"vertex"}]}],"mark":{"type":"line","strokeWidth":0,"stroke":null,"fill":{"gradient":"linear","x1":0.434,"y1":1,"x2":0.494,"y2":-0.004,"stops":[{"offset":0,"color":"#000000"},{"offset":0.375,"color":"#ff0000"},{"offset":0.75,"color":"#ffff00"},{"offset":1,"color":"#ffffff"}]}},"encoding":{"order":{"field":"vertex","type":"quantitative"}}},
{"transform":[{"filter":"datum.kind=='mesh'"}],"mark":{"type":"rule","stroke":"#000","strokeWidth":0.9,"opacity":0.8},"encoding":{"x2":{"field":"sx1"},"y2":{"field":"sy1"}}},
{"transform":[{"filter":"datum.kind=='axis'"}],"mark":{"type":"rule","stroke":"#333","strokeWidth":1},"encoding":{"x2":{"field":"sx1"},"y2":{"field":"sy1"}}},
{"transform":[{"filter":"datum.kind=='ramT'"}],"mark":{"type":"text","align":"right","baseline":"middle","dx":-10,"dy":9,"font":"Liberation Sans","fontSize":10.5,"fill":"#444"},"encoding":{"text":{"field":"label"}}},
{"transform":[{"filter":"datum.kind=='cpuT'"}],"mark":{"type":"text","align":"left","baseline":"middle","dx":8,"dy":12,"font":"Liberation Sans","fontSize":10.5,"fill":"#444"},"encoding":{"text":{"field":"label"}}},
{"transform":[{"filter":"datum.kind=='pT'"}],"mark":{"type":"text","align":"right","baseline":"middle","dx":-9,"dy":-3,"font":"Liberation Sans","fontSize":10.5,"fill":"#444"},"encoding":{"text":{"field":"label"}}},
{"transform":[{"filter":"datum.kind=='title'"}],"mark":{"type":"text","align":"center","baseline":"middle","font":"Liberation Sans","fontSize":15.5,"fill":"#555"},"encoding":{"text":{"field":"label"}}},
{"transform":[{"filter":"datum.kind=='sym'"}],"mark":{"type":"text","align":"center","baseline":"middle","dx":-45,"font":"Liberation Sans","fontSize":16,"fill":"#444"},"encoding":{"text":{"field":"label"}}},
{"transform":[{"filter":"datum.kind=='sub'"}],"mark":{"type":"text","align":"center","baseline":"middle","dx":-37,"font":"Liberation Sans","fontSize":14,"fill":"#444"},"encoding":{"text":{"field":"label"}}}
]}
